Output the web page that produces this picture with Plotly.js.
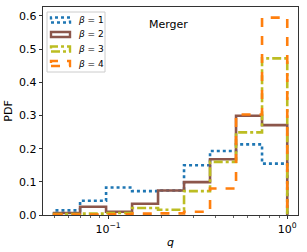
<!DOCTYPE html>
<html>
<head>
<meta charset="utf-8">
<script src="https://cdn.plot.ly/plotly-3.0.1.min.js"></script>
<style>html,body{margin:0;padding:0;background:#fff;}#chart{width:307px;height:252px;}</style>
</head>
<body>
<div id="chart"></div>
<script>
const binEdges = [0.05, 0.0698, 0.0975, 0.1362, 0.1901, 0.2655, 0.3708, 0.5179, 0.7233, 1.0];
const beta1 = [0.014, 0.043, 0.083, 0.072, 0.074, 0.150, 0.193, 0.213, 0.155];
const beta2 = [0.006, 0.025, 0.010, 0.034, 0.074, 0.099, 0.168, 0.299, 0.271];
const beta3 = [0.003, 0.004, 0.006, 0.021, 0.016, 0.072, 0.160, 0.249, 0.472];
const beta4 = [0.001, 0.001, 0.002, 0.004, 0.005, 0.010, 0.080, 0.303, 0.595];
const seriesNames = ["<i>β</i> = 1", "<i>β</i> = 2", "<i>β</i> = 3", "<i>β</i> = 4"];
const seriesColors = ["#1f77b4", "#8c564b", "#bcbd22", "#ff7f0e"];
const seriesDash = ["dot", "solid", "dashdot", "dash"];
const xTickVals = [0.1, 1];
const xTickText = ["10<sup>−1</sup>", "10<sup>0</sup>"];
const xMinorVals = [0.05, 0.06, 0.07, 0.08, 0.09, 0.2, 0.3, 0.4, 0.5, 0.6, 0.7, 0.8, 0.9];
const yTickVals = [0.0, 0.1, 0.2, 0.3, 0.4, 0.5, 0.6];

function stepTrace(vals, i) {
  const x = [binEdges[0]].concat(binEdges);
  const y = [0].concat(vals).concat([0]);
  return {
    x: x, y: y, type: "scatter", mode: "lines", name: seriesNames[i],
    line: {shape: "hv", color: seriesColors[i], dash: seriesDash[i], width: 2.6},
    hoverinfo: "skip", showlegend: false
  };
}
const data = [beta1, beta2, beta3, beta4].map(stepTrace);

// manual legend (matplotlib-style patch handles)
const W = 307, H = 252, ML = 43, MR = 9, MT = 7, MB = 37;
const PW = W - ML - MR, PH = H - MT - MB;
const px = v => (v - ML) / PW;
const py = v => (H - MB - v) / PH;
const shapes = [{
  type: "rect", xref: "paper", yref: "paper",
  x0: px(47), x1: px(105), y0: py(72), y1: py(12),
  line: {color: "#cccccc", width: 1}, fillcolor: "rgba(255,255,255,0.8)", layer: "above"
}];
const annotations = [];
const rowY = [20, 34.5, 49, 63.5];
seriesNames.forEach((name, i) => {
  shapes.push({
    type: "rect", xref: "paper", yref: "paper",
    x0: px(51), x1: px(70), y0: py(rowY[i] + 2.5), y1: py(rowY[i] - 2.5),
    line: {color: seriesColors[i], width: 2.4, dash: seriesDash[i]},
    fillcolor: "rgba(0,0,0,0)", layer: "above"
  });
  annotations.push({
    text: name, xref: "paper", yref: "paper", x: px(76), y: py(rowY[i]),
    xanchor: "left", yanchor: "middle", showarrow: false,
    font: {family: "DejaVu Sans, sans-serif", size: 9, color: "#000"}
  });
});
annotations.push({
  text: "Merger", xref: "paper", yref: "paper", x: px(168), y: py(24),
  xanchor: "center", yanchor: "middle", showarrow: false,
  font: {family: "DejaVu Sans, sans-serif", size: 11, color: "#000"}
});

const font = {family: "DejaVu Sans, sans-serif", size: 11, color: "#000"};
const layout = {
  width: W, height: H,
  margin: {l: ML, r: MR, t: MT, b: MB},
  paper_bgcolor: "#fff", plot_bgcolor: "#fff",
  font: font,
  showlegend: false,
  xaxis: {
    type: "log", range: [-1.363, 0.06],
    tickmode: "array", tickvals: xTickVals, ticktext: xTickText,
    ticks: "outside", ticklen: 3.5, tickwidth: 0.8, tickcolor: "#000",
    minor: {tickmode: "array", tickvals: xMinorVals, ticks: "outside", ticklen: 2, tickwidth: 0.6, tickcolor: "#000", showgrid: false},
    showline: true, linecolor: "#000", linewidth: 0.8, mirror: true,
    showgrid: false, zeroline: false,
    title: {text: "<i>q</i>", font: font, standoff: 3},
    tickfont: font
  },
  yaxis: {
    range: [0, 0.627],
    tickmode: "array", tickvals: yTickVals, tickformat: ".1f",
    ticks: "outside", ticklen: 3.5, tickwidth: 0.8, tickcolor: "#000",
    showline: true, linecolor: "#000", linewidth: 0.8, mirror: true,
    showgrid: false, zeroline: false,
    title: {text: "PDF", font: font, standoff: 4},
    tickfont: font
  },
  shapes: shapes,
  annotations: annotations
};
Plotly.newPlot("chart", data, layout, {displayModeBar: false, staticPlot: true});
</script>
</body>
</html>
